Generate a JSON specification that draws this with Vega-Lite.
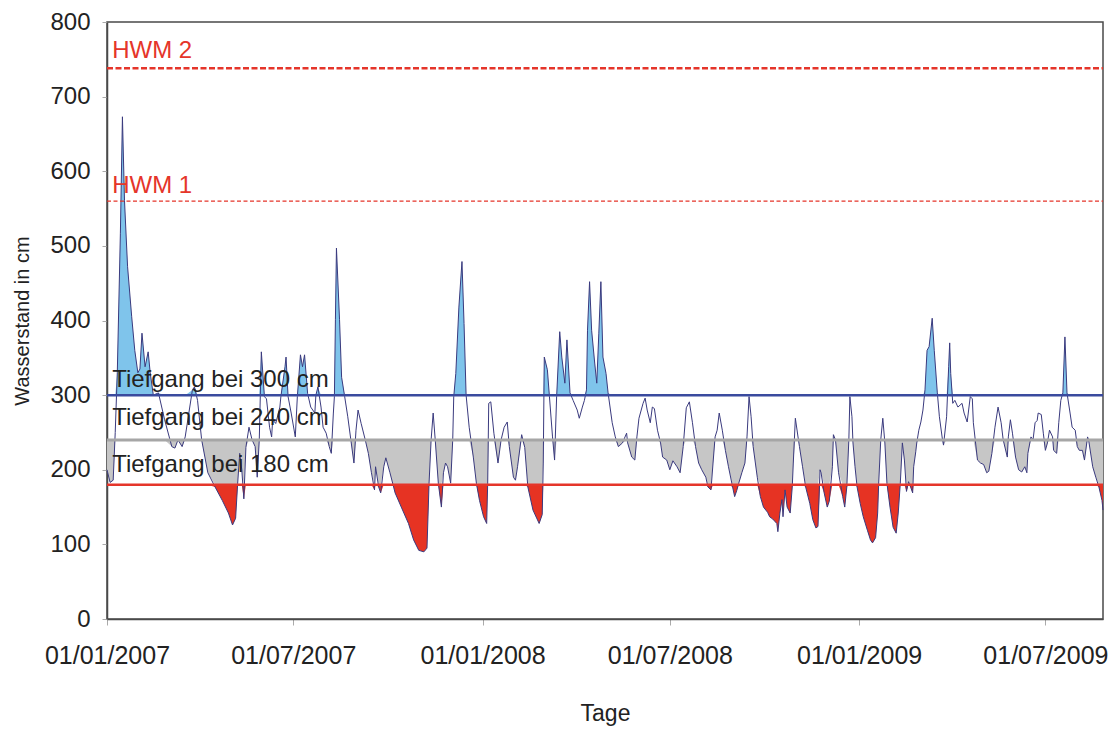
{
  "$schema": "https://vega.github.io/schema/vega-lite/v6.json",
  "autosize": "none",
  "width": 996,
  "height": 597,
  "padding": {"left": 107, "top": 22, "right": 5, "bottom": 112},
  "background": "white",
  "config": {
    "view": {"stroke": "#4a4a4a", "strokeWidth": 1.5},
    "font": "Liberation Sans",
    "axis": {"labelFont": "Liberation Sans", "titleFont": "Liberation Sans", "titleFontWeight": "normal", "labelColor": "#222", "titleColor": "#222", "grid": false}
  },
  "datasets": {
    "ws": [
      {"d":"2007-01-01","v":200},{"d":"2007-01-04","v":183},{"d":"2007-01-07","v":186},{"d":"2007-01-09","v":250},{"d":"2007-01-11","v":330},{"d":"2007-01-14","v":517},{"d":"2007-01-16","v":673},{"d":"2007-01-18","v":561},{"d":"2007-01-21","v":472},{"d":"2007-01-25","v":405},{"d":"2007-01-28","v":360},{"d":"2007-01-31","v":330},
      {"d":"2007-02-02","v":335},{"d":"2007-02-04","v":383},{"d":"2007-02-07","v":338},{"d":"2007-02-10","v":358},{"d":"2007-02-12","v":330},{"d":"2007-02-15","v":300},{"d":"2007-02-20","v":303},{"d":"2007-02-26","v":267},
      {"d":"2007-03-05","v":231},{"d":"2007-03-08","v":229},{"d":"2007-03-11","v":240},{"d":"2007-03-15","v":231},{"d":"2007-03-18","v":244},{"d":"2007-03-25","v":307},{"d":"2007-03-27","v":311},{"d":"2007-03-30","v":293},
      {"d":"2007-04-03","v":240},{"d":"2007-04-09","v":196},{"d":"2007-04-16","v":177},{"d":"2007-04-23","v":159},{"d":"2007-04-29","v":142},
      {"d":"2007-05-03","v":126},{"d":"2007-05-06","v":135},{"d":"2007-05-08","v":182},{"d":"2007-05-10","v":222},{"d":"2007-05-12","v":200},{"d":"2007-05-14","v":161},{"d":"2007-05-16","v":230},{"d":"2007-05-19","v":257},{"d":"2007-05-22","v":240},{"d":"2007-05-25","v":231},{"d":"2007-05-27","v":190},{"d":"2007-05-29","v":240},{"d":"2007-05-31","v":358},
      {"d":"2007-06-03","v":298},{"d":"2007-06-05","v":295},{"d":"2007-06-08","v":257},{"d":"2007-06-10","v":244},{"d":"2007-06-11","v":267},{"d":"2007-06-14","v":262},{"d":"2007-06-18","v":284},{"d":"2007-06-19","v":298},{"d":"2007-06-23","v":338},{"d":"2007-06-24","v":351},{"d":"2007-06-26","v":298},{"d":"2007-06-29","v":276},
      {"d":"2007-07-03","v":244},{"d":"2007-07-05","v":298},{"d":"2007-07-08","v":354},{"d":"2007-07-10","v":338},{"d":"2007-07-12","v":354},{"d":"2007-07-15","v":302},{"d":"2007-07-18","v":284},{"d":"2007-07-22","v":276},{"d":"2007-07-23","v":300},{"d":"2007-07-25","v":311},{"d":"2007-07-28","v":284},{"d":"2007-07-30","v":257},
      {"d":"2007-08-02","v":249},{"d":"2007-08-05","v":231},{"d":"2007-08-07","v":222},{"d":"2007-08-09","v":276},{"d":"2007-08-10","v":298},{"d":"2007-08-11","v":401},{"d":"2007-08-12","v":497},{"d":"2007-08-15","v":401},{"d":"2007-08-17","v":324},{"d":"2007-08-20","v":298},{"d":"2007-08-23","v":271},{"d":"2007-08-26","v":240},{"d":"2007-08-29","v":209},{"d":"2007-08-31","v":253},
      {"d":"2007-09-02","v":280},{"d":"2007-09-05","v":262},{"d":"2007-09-09","v":240},{"d":"2007-09-12","v":222},{"d":"2007-09-15","v":196},{"d":"2007-09-18","v":173},{"d":"2007-09-19","v":204},{"d":"2007-09-22","v":177},{"d":"2007-09-24","v":169},{"d":"2007-09-27","v":204},{"d":"2007-09-29","v":216},
      {"d":"2007-10-03","v":196},{"d":"2007-10-06","v":180},{"d":"2007-10-08","v":169},{"d":"2007-10-14","v":150},{"d":"2007-10-21","v":128},{"d":"2007-10-26","v":106},{"d":"2007-10-31","v":92},
      {"d":"2007-11-05","v":90},{"d":"2007-11-08","v":95},{"d":"2007-11-10","v":182},{"d":"2007-11-12","v":240},{"d":"2007-11-14","v":276},{"d":"2007-11-16","v":240},{"d":"2007-11-19","v":182},{"d":"2007-11-22","v":150},{"d":"2007-11-24","v":196},{"d":"2007-11-26","v":209},{"d":"2007-11-28","v":204},
      {"d":"2007-12-01","v":182},{"d":"2007-12-03","v":240},{"d":"2007-12-04","v":298},{"d":"2007-12-06","v":329},{"d":"2007-12-09","v":418},{"d":"2007-12-12","v":479},{"d":"2007-12-14","v":396},{"d":"2007-12-16","v":300},{"d":"2007-12-19","v":257},{"d":"2007-12-23","v":217},{"d":"2007-12-26","v":182},{"d":"2007-12-29","v":159},
      {"d":"2008-01-02","v":137},{"d":"2008-01-05","v":128},{"d":"2008-01-06","v":182},{"d":"2008-01-07","v":289},{"d":"2008-01-09","v":291},{"d":"2008-01-12","v":249},{"d":"2008-01-16","v":209},{"d":"2008-01-19","v":240},{"d":"2008-01-22","v":257},{"d":"2008-01-25","v":264},{"d":"2008-01-27","v":231},{"d":"2008-01-31","v":190},
      {"d":"2008-02-02","v":186},{"d":"2008-02-04","v":204},{"d":"2008-02-08","v":247},{"d":"2008-02-11","v":230},{"d":"2008-02-14","v":177},{"d":"2008-02-19","v":146},{"d":"2008-02-25","v":128},{"d":"2008-02-28","v":140},{"d":"2008-02-29","v":209},
      {"d":"2008-03-01","v":351},{"d":"2008-03-04","v":334},{"d":"2008-03-06","v":298},{"d":"2008-03-09","v":244},{"d":"2008-03-11","v":213},{"d":"2008-03-13","v":298},{"d":"2008-03-16","v":385},{"d":"2008-03-18","v":351},{"d":"2008-03-21","v":316},{"d":"2008-03-23","v":374},{"d":"2008-03-26","v":303},{"d":"2008-03-29","v":293},
      {"d":"2008-04-02","v":280},{"d":"2008-04-04","v":269},{"d":"2008-04-07","v":284},{"d":"2008-04-09","v":293},{"d":"2008-04-11","v":307},{"d":"2008-04-12","v":387},{"d":"2008-04-14","v":452},{"d":"2008-04-16","v":387},{"d":"2008-04-19","v":343},{"d":"2008-04-21","v":316},{"d":"2008-04-23","v":383},{"d":"2008-04-25","v":452},{"d":"2008-04-27","v":351},{"d":"2008-04-30","v":329},
      {"d":"2008-05-02","v":303},{"d":"2008-05-06","v":263},{"d":"2008-05-09","v":244},{"d":"2008-05-12","v":231},{"d":"2008-05-16","v":236},{"d":"2008-05-20","v":249},{"d":"2008-05-21","v":236},{"d":"2008-05-25","v":217},{"d":"2008-05-28","v":213},{"d":"2008-05-30","v":244},
      {"d":"2008-06-01","v":269},{"d":"2008-06-05","v":289},{"d":"2008-06-07","v":296},{"d":"2008-06-09","v":280},{"d":"2008-06-12","v":263},{"d":"2008-06-14","v":284},{"d":"2008-06-16","v":282},{"d":"2008-06-19","v":253},{"d":"2008-06-22","v":236},{"d":"2008-06-24","v":217},{"d":"2008-06-28","v":213},
      {"d":"2008-07-01","v":200},{"d":"2008-07-04","v":212},{"d":"2008-07-08","v":204},{"d":"2008-07-11","v":196},{"d":"2008-07-14","v":231},{"d":"2008-07-17","v":283},{"d":"2008-07-20","v":291},{"d":"2008-07-23","v":263},{"d":"2008-07-26","v":231},{"d":"2008-07-29","v":209},
      {"d":"2008-08-01","v":200},{"d":"2008-08-05","v":190},{"d":"2008-08-07","v":177},{"d":"2008-08-10","v":173},{"d":"2008-08-12","v":209},{"d":"2008-08-14","v":244},{"d":"2008-08-16","v":253},{"d":"2008-08-18","v":276},{"d":"2008-08-21","v":253},{"d":"2008-08-24","v":226},{"d":"2008-08-27","v":204},{"d":"2008-08-31","v":177},
      {"d":"2008-09-02","v":164},{"d":"2008-09-04","v":172},{"d":"2008-09-06","v":182},{"d":"2008-09-09","v":196},{"d":"2008-09-12","v":209},{"d":"2008-09-14","v":244},{"d":"2008-09-16","v":298},{"d":"2008-09-18","v":271},{"d":"2008-09-20","v":231},{"d":"2008-09-24","v":190},{"d":"2008-09-27","v":164},{"d":"2008-09-30","v":150},
      {"d":"2008-10-04","v":143},{"d":"2008-10-06","v":137},{"d":"2008-10-09","v":134},{"d":"2008-10-13","v":128},{"d":"2008-10-14","v":117},{"d":"2008-10-16","v":142},{"d":"2008-10-18","v":160},{"d":"2008-10-19","v":137},{"d":"2008-10-21","v":173},{"d":"2008-10-23","v":150},{"d":"2008-10-26","v":142},{"d":"2008-10-28","v":177},{"d":"2008-10-29","v":209},{"d":"2008-10-31","v":269},
      {"d":"2008-11-03","v":240},{"d":"2008-11-04","v":231},{"d":"2008-11-07","v":204},{"d":"2008-11-10","v":177},{"d":"2008-11-14","v":155},{"d":"2008-11-17","v":133},{"d":"2008-11-20","v":122},{"d":"2008-11-22","v":124},{"d":"2008-11-24","v":200},{"d":"2008-11-25","v":196},{"d":"2008-11-28","v":169},
      {"d":"2008-12-01","v":150},{"d":"2008-12-03","v":158},{"d":"2008-12-06","v":204},{"d":"2008-12-07","v":247},{"d":"2008-12-09","v":240},{"d":"2008-12-12","v":196},{"d":"2008-12-16","v":164},{"d":"2008-12-18","v":150},{"d":"2008-12-20","v":177},{"d":"2008-12-22","v":240},{"d":"2008-12-23","v":298},{"d":"2008-12-25","v":271},{"d":"2008-12-26","v":236},{"d":"2008-12-28","v":204},{"d":"2008-12-30","v":177},
      {"d":"2009-01-02","v":155},{"d":"2009-01-05","v":137},{"d":"2009-01-09","v":119},{"d":"2009-01-12","v":106},{"d":"2009-01-14","v":102},{"d":"2009-01-17","v":109},{"d":"2009-01-19","v":142},{"d":"2009-01-20","v":182},{"d":"2009-01-22","v":240},{"d":"2009-01-24","v":269},{"d":"2009-01-26","v":236},{"d":"2009-01-28","v":182},{"d":"2009-01-31","v":150},
      {"d":"2009-02-03","v":123},{"d":"2009-02-06","v":115},{"d":"2009-02-08","v":142},{"d":"2009-02-10","v":182},{"d":"2009-02-12","v":236},{"d":"2009-02-14","v":213},{"d":"2009-02-16","v":171},{"d":"2009-02-18","v":184},{"d":"2009-02-20","v":177},{"d":"2009-02-22","v":169},{"d":"2009-02-23","v":204},{"d":"2009-02-25","v":224},{"d":"2009-02-26","v":236},{"d":"2009-02-28","v":253},
      {"d":"2009-03-02","v":264},{"d":"2009-03-04","v":280},{"d":"2009-03-06","v":307},{"d":"2009-03-08","v":360},{"d":"2009-03-10","v":365},{"d":"2009-03-13","v":403},{"d":"2009-03-15","v":360},{"d":"2009-03-18","v":303},{"d":"2009-03-20","v":271},{"d":"2009-03-23","v":240},{"d":"2009-03-24","v":233},{"d":"2009-03-27","v":271},{"d":"2009-03-29","v":338},{"d":"2009-03-30","v":370},{"d":"2009-03-31","v":329},
      {"d":"2009-04-02","v":289},{"d":"2009-04-04","v":293},{"d":"2009-04-07","v":284},{"d":"2009-04-11","v":289},{"d":"2009-04-13","v":276},{"d":"2009-04-16","v":264},{"d":"2009-04-19","v":298},{"d":"2009-04-21","v":295},{"d":"2009-04-22","v":263},{"d":"2009-04-26","v":213},{"d":"2009-04-29","v":209},
      {"d":"2009-05-02","v":207},{"d":"2009-05-05","v":196},{"d":"2009-05-07","v":198},{"d":"2009-05-10","v":222},{"d":"2009-05-13","v":257},{"d":"2009-05-16","v":284},{"d":"2009-05-19","v":263},{"d":"2009-05-21","v":240},{"d":"2009-05-25","v":217},{"d":"2009-05-26","v":244},{"d":"2009-05-28","v":267},{"d":"2009-05-30","v":249},
      {"d":"2009-06-02","v":217},{"d":"2009-06-05","v":200},{"d":"2009-06-08","v":197},{"d":"2009-06-11","v":204},{"d":"2009-06-13","v":196},{"d":"2009-06-14","v":222},{"d":"2009-06-17","v":244},{"d":"2009-06-19","v":240},{"d":"2009-06-21","v":263},{"d":"2009-06-23","v":266},{"d":"2009-06-24","v":276},{"d":"2009-06-27","v":274},{"d":"2009-06-29","v":249},
      {"d":"2009-07-01","v":226},{"d":"2009-07-03","v":236},{"d":"2009-07-05","v":253},{"d":"2009-07-08","v":244},{"d":"2009-07-09","v":226},{"d":"2009-07-12","v":222},{"d":"2009-07-14","v":263},{"d":"2009-07-16","v":293},{"d":"2009-07-18","v":303},{"d":"2009-07-20","v":378},{"d":"2009-07-22","v":303},{"d":"2009-07-25","v":276},{"d":"2009-07-27","v":257},{"d":"2009-07-30","v":253},
      {"d":"2009-08-01","v":231},{"d":"2009-08-03","v":226},{"d":"2009-08-06","v":226},{"d":"2009-08-08","v":213},{"d":"2009-08-11","v":244},{"d":"2009-08-12","v":240},{"d":"2009-08-16","v":204},{"d":"2009-08-19","v":190},{"d":"2009-08-22","v":177},{"d":"2009-08-25","v":159},{"d":"2009-08-26","v":146}
    ],
    "lines": [
      {"d": "2007-01-01", "d2": "2009-08-26", "v": 738, "k": "HWM 2"},
      {"d": "2007-01-01", "d2": "2009-08-26", "v": 560, "k": "HWM 1"},
      {"d": "2007-01-01", "d2": "2009-08-26", "v": 300, "k": "T300"},
      {"d": "2007-01-01", "d2": "2009-08-26", "v": 240, "k": "T240"},
      {"d": "2007-01-01", "d2": "2009-08-26", "v": 180, "k": "T180"}
    ]
  },
  "encoding": {
    "x": {
      "field": "d", "type": "temporal", "title": "Tage",
      "scale": {"type": "utc", "nice": false, "domain": [{"year": 2007, "month": 1, "date": 1, "utc": true}, {"year": 2009, "month": 8, "date": 26, "utc": true}]},
      "axis": {
        "values": [
          {"year": 2007, "month": 1, "date": 1, "utc": true},
          {"year": 2007, "month": 7, "date": 1, "utc": true},
          {"year": 2008, "month": 1, "date": 1, "utc": true},
          {"year": 2008, "month": 7, "date": 1, "utc": true},
          {"year": 2009, "month": 1, "date": 1, "utc": true},
          {"year": 2009, "month": 7, "date": 1, "utc": true}
        ],
        "format": "%d/%m/%Y", "labelFontSize": 25, "titleFontSize": 23, "tickSize": 6, "tickColor": "#aaa",
        "domainColor": "#4a4a4a", "domainWidth": 1.5, "labelPadding": 18, "titlePadding": 34, "labelOverlap": false, "labelFlush": false
      }
    }
  },
  "layer": [
    {
      "data": {"name": "ws"},
      "mark": {"type": "area", "color": "#7fc4eb", "opacity": 1},
      "encoding": {
        "y": {"field": "v", "type": "quantitative", "axis": null, "stack": null, "scale": {"domain": [300, 800], "range": [373.125, 0], "clamp": true, "nice": false, "zero": false}},
        "y2": {"datum": 300}
      }
    },
    {
      "data": {"name": "ws"},
      "mark": {"type": "area", "color": "#c6c6c6", "opacity": 1},
      "encoding": {
        "y": {"field": "v", "type": "quantitative", "axis": null, "stack": null, "scale": {"domain": [180, 240], "range": [462.675, 417.9], "clamp": true, "nice": false, "zero": false}},
        "y2": {"datum": 240}
      }
    },
    {
      "data": {"name": "ws"},
      "mark": {"type": "area", "color": "#e63323", "opacity": 1},
      "encoding": {
        "y": {"field": "v", "type": "quantitative", "axis": null, "stack": null, "scale": {"domain": [0, 180], "range": [597, 462.675], "clamp": true, "nice": false, "zero": false}},
        "y2": {"datum": 180}
      }
    },
    {
      "encoding": {
        "y": {
          "field": "v", "type": "quantitative", "title": "Wasserstand in cm",
          "scale": {"domain": [0, 800], "nice": false, "zero": true},
          "axis": {"orient": "left", "values": [0, 100, 200, 300, 400, 500, 600, 700, 800], "labelFontSize": 24, "titleFontSize": 20, "tickSize": 5, "tickColor": "#aaa", "domainColor": "#4a4a4a", "domainWidth": 1.5, "labelPadding": 12, "titlePadding": 17}
        }
      },
      "layer": [
        {
          "data": {"name": "ws"},
          "mark": {"type": "line", "color": "#3a3a7e", "strokeWidth": 1, "interpolate": "linear"}
        },
        {
          "data": {"name": "lines"},
          "transform": [{"filter": "datum.k == 'HWM 2'"}],
          "mark": {"type": "rule", "color": "#e5352a", "strokeWidth": 2.6, "strokeDash": [6, 2.5]},
          "encoding": {"x2": {"field": "d2"}}
        },
        {
          "data": {"name": "lines"},
          "transform": [{"filter": "datum.k == 'HWM 1'"}],
          "mark": {"type": "rule", "color": "#e5352a", "strokeWidth": 1.3, "strokeDash": [4, 2.5]},
          "encoding": {"x2": {"field": "d2"}}
        },
        {
          "data": {"name": "lines"},
          "transform": [{"filter": "datum.k == 'T300'"}],
          "mark": {"type": "rule", "color": "#3a4a9e", "strokeWidth": 2.5},
          "encoding": {"x2": {"field": "d2"}}
        },
        {
          "data": {"name": "lines"},
          "transform": [{"filter": "datum.k == 'T240'"}],
          "mark": {"type": "rule", "color": "#a6a6a6", "strokeWidth": 3},
          "encoding": {"x2": {"field": "d2"}}
        },
        {
          "data": {"name": "lines"},
          "transform": [{"filter": "datum.k == 'T180'"}],
          "mark": {"type": "rule", "color": "#e5352a", "strokeWidth": 2.5},
          "encoding": {"x2": {"field": "d2"}}
        },
        {
          "data": {"values": [
            {"d": "2007-01-06", "v": 752, "t": "HWM 2"},
            {"d": "2007-01-06", "v": 571, "t": "HWM 1"}
          ]},
          "mark": {"type": "text", "align": "left", "baseline": "alphabetic", "fontSize": 24, "color": "#e5352a", "font": "Liberation Sans"},
          "encoding": {"text": {"field": "t"}}
        },
        {
          "data": {"values": [
            {"d": "2007-01-06", "v": 311, "t": "Tiefgang bei 300 cm"},
            {"d": "2007-01-06", "v": 260, "t": "Tiefgang bei 240 cm"},
            {"d": "2007-01-06", "v": 197, "t": "Tiefgang bei 180 cm"}
          ]},
          "mark": {"type": "text", "align": "left", "baseline": "alphabetic", "fontSize": 24, "color": "#222", "font": "Liberation Sans"},
          "encoding": {"text": {"field": "t"}}
        }
      ]
    }
  ],
  "resolve": {"scale": {"y": "independent"}}
}
